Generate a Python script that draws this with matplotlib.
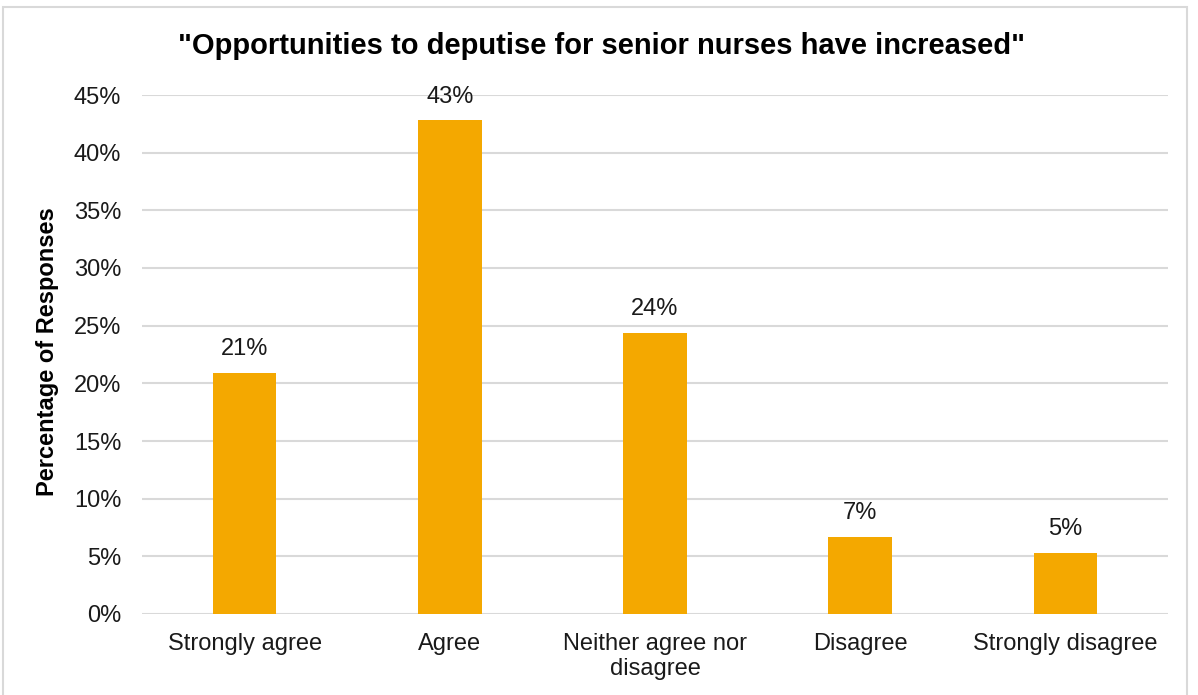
import matplotlib.pyplot as plt
import matplotlib.ticker as ticker
from matplotlib.patches import Rectangle

categories = ['Strongly agree', 'Agree', 'Neither agree nor\ndisagree', 'Disagree', 'Strongly disagree']
shares = [20.9, 42.8, 24.4, 6.7, 5.3]
y_ticks = [0, 5, 10, 15, 20, 25, 30, 35, 40, 45]

plt.rcParams['font.family'] = ['Liberation Sans', 'DejaVu Sans']

W, H = 1198, 695
fig = plt.figure(figsize=(W / 100, H / 100), dpi=100)
ax = fig.add_axes([142 / W, (H - 614) / H, (1168 - 142) / W, (614 - 95) / H])

x = range(len(categories))
bars = ax.bar(x, shares, width=0.31, color='#F4A800', zorder=3)
for b, v in zip(bars, shares):
    ax.text(b.get_x() + b.get_width() / 2, v + 1.1, f'{v:.0f}%',
            ha='center', va='bottom', fontsize=17, color='#1a1a1a')

ax.set_xlim(-0.5, len(categories) - 0.5)
ax.set_ylim(0, 45)
ax.set_yticks(y_ticks)
ax.yaxis.set_major_formatter(ticker.FuncFormatter(lambda v, pos: f'{v:.0f}%'))
ax.set_xticks(list(x))
ax.set_xticklabels(categories, fontsize=17, color='#1a1a1a', linespacing=1.15)
ax.tick_params(axis='y', labelsize=17, labelcolor='#1a1a1a', length=0, pad=15)
ax.tick_params(axis='x', length=0, pad=14)
ax.grid(axis='y', color='#D9D9D9', linewidth=1.5, zorder=0)
for s in ax.spines.values():
    s.set_visible(False)

ax.set_ylabel('Percentage of Responses', fontsize=17, fontweight='bold')
ax.yaxis.set_label_coords(-0.081, 0.506)
fig.text(602 / W, 1 - 46 / H, '"Opportunities to deputise for senior nurses have increased"',
         ha='center', va='center', fontsize=21, fontweight='bold')

fig.patches.append(Rectangle((3 / W, -0.01), (1187 - 3) / W, 1 - 7 / H + 0.01,
                             transform=fig.transFigure, fill=False,
                             edgecolor='#D9D9D9', linewidth=1.5))

fig.savefig('out.png', dpi=100)
